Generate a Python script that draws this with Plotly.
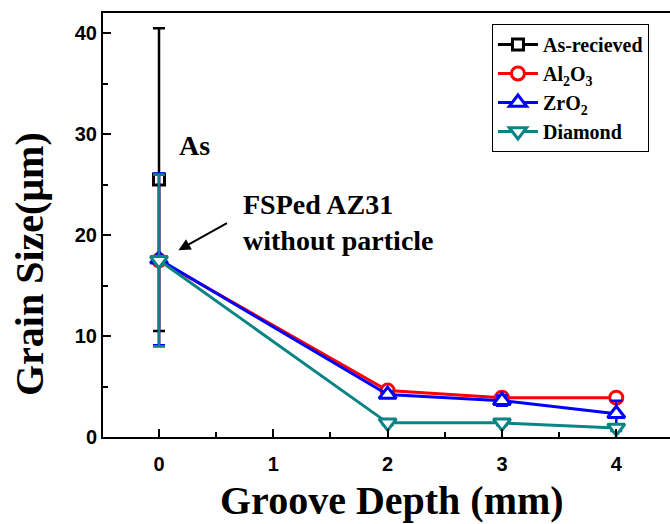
import plotly.graph_objects as go

depth = [0, 2, 3, 4]
as_x = [0]
as_y = [25.5]
as_err = [15.0]
al2o3 = [17.5, 4.6, 3.9, 3.9]
al2o3_err = [8.5, 0.3, 0.3, 0.3]
zro2 = [17.6, 4.2, 3.6, 2.3]
zro2_err = [8.5, 0.3, 0.5, 1.3]
diamond = [17.5, 1.4, 1.4, 0.9]
diamond_err = [8.5, 0.2, 0.2, 0.3]

serif = "Liberation Serif"
sans = "Liberation Sans"

fig = go.Figure()

def add(name, x, y, err, color, symbol, size):
    fig.add_trace(go.Scatter(
        x=x, y=y, name=name, mode="lines+markers",
        line=dict(color=color, width=3),
        marker=dict(symbol=symbol, size=size, color="white",
                    line=dict(color=color, width=3)),
        error_y=dict(type="data", array=err, visible=True, color=color,
                     thickness=2.5, width=6),
    ))

add("As-recieved", as_x, as_y, as_err, "black", "square", 11)
add("Al<sub>2</sub>O<sub>3</sub>", depth, al2o3, al2o3_err, "red", "circle", 13)
add("ZrO<sub>2</sub>", depth, zro2, zro2_err, "blue", "triangle-up", 15)
add("Diamond", depth, diamond, diamond_err, "#0a8484", "triangle-down", 15)

fig.add_annotation(x=0.16, y=28.9, text="<b>As</b>", showarrow=False,
                   xanchor="left", yanchor="middle",
                   font=dict(family=serif, size=28, color="black"))
fig.add_annotation(x=0.72, y=21.2, text="<b>FSPed AZ31<br>without particle</b>",
                   showarrow=False, xanchor="left", yanchor="middle", align="left",
                   font=dict(family=serif, size=28, color="black"))
fig.add_annotation(x=0.17, y=18.5, ax=50, ay=-28, text="", showarrow=True,
                   arrowhead=2, arrowsize=1.2, arrowwidth=2, arrowcolor="black")

# axis titles
fig.add_annotation(xref="paper", yref="paper", x=-0.1305, y=0.408,
                   text="<b>Grain Size(μm)</b>", textangle=-90, showarrow=False,
                   xanchor="center", yanchor="middle",
                   font=dict(family=serif, size=40, color="black"))
fig.add_annotation(xref="paper", yref="paper", x=0.51, y=-0.149,
                   text="<b>Groove Depth (mm)</b>", showarrow=False,
                   xanchor="center", yanchor="middle",
                   font=dict(family=serif, size=40, color="black"))

fig.update_layout(
    width=670, height=524,
    margin=dict(l=103, r=0, t=13, b=87),
    paper_bgcolor="white", plot_bgcolor="white",
    showlegend=True,
    legend=dict(x=0.686, y=0.974, xanchor="left", yanchor="top",
                bordercolor="black", borderwidth=1, bgcolor="white",
                font=dict(family=serif, size=20, color="black", weight="bold"),
                itemwidth=40),
    xaxis=dict(range=[-0.49, 4.47], tickvals=[0, 1, 2, 3, 4],
               ticks="inside", ticklen=8, tickwidth=2, tickcolor="black",
               showline=True, linewidth=2, linecolor="black", mirror=True,
               showgrid=False, zeroline=False, ticklabelstandoff=8,
               minor=dict(dtick=0.5, ticks="inside", ticklen=5, tickwidth=2, tickcolor="black"),
               tickfont=dict(family=sans, size=20, color="black", weight="bold")),
    yaxis=dict(range=[0, 42], tickvals=[0, 10, 20, 30, 40],
               ticks="inside", ticklen=8, tickwidth=2, tickcolor="black",
               showline=True, linewidth=2, linecolor="black", mirror=False,
               showgrid=False, zeroline=False, ticksuffix="\u2002",
               minor=dict(dtick=5, ticks="inside", ticklen=5, tickwidth=2, tickcolor="black"),
               tickfont=dict(family=sans, size=20, color="black", weight="bold")),
)

fig.write_html("out.html")
